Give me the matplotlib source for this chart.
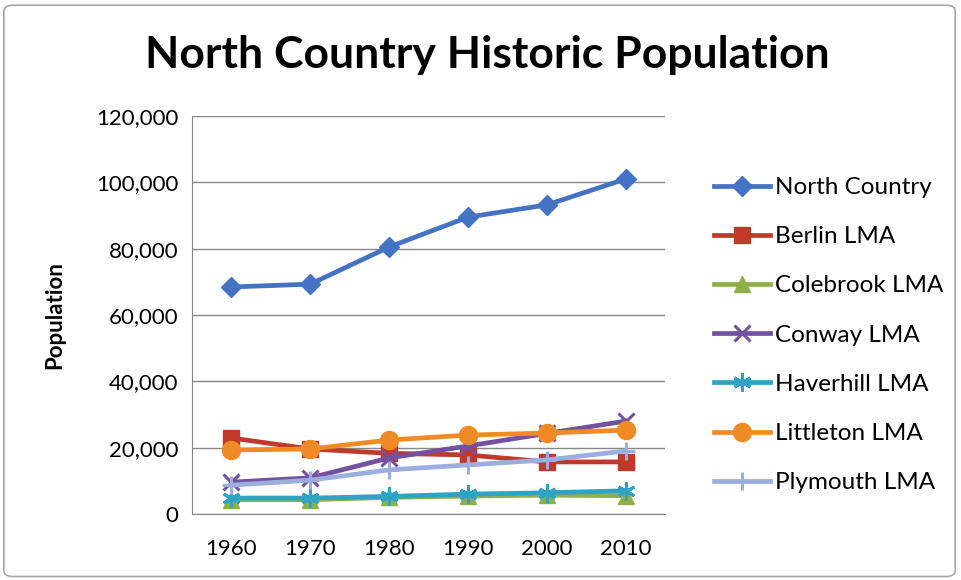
import matplotlib.pyplot as plt
from matplotlib.ticker import FuncFormatter
from matplotlib.patches import FancyBboxPatch

years = [1960, 1970, 1980, 1990, 2000, 2010]

north_country = [68450, 69300, 80500, 89500, 93200, 101000]
berlin = [22900, 19600, 18300, 17800, 15700, 15700]
colebrook = [4300, 4300, 5000, 5400, 5700, 5500]
conway = [9600, 10900, 16900, 20500, 24300, 28000]
haverhill = [4800, 4800, 5300, 6000, 6400, 7000]
littleton = [19300, 19600, 22300, 23800, 24400, 25300]
plymouth = [8700, 10200, 13300, 14800, 16300, 19000]

series = [
    ("North Country", north_country, "#4472C4", "D", 10),
    ("Berlin LMA", berlin, "#C0392B", "s", 12),
    ("Colebrook LMA", colebrook, "#8DB04B", "^", 11),
    ("Conway LMA", conway, "#7451A0", "x", 12),
    ("Haverhill LMA", haverhill, "#2FA3C4", (6, 2, 0), 13),
    ("Littleton LMA", littleton, "#F08A24", "o", 13),
    ("Plymouth LMA", plymouth, "#9AAEE0", "+", 13),
]

plt.rcParams['font.family'] = ['Lato', 'DejaVu Sans']

fig = plt.figure(figsize=(9.61, 5.80), dpi=100)
ax = fig.add_axes([192 / 961, 1 - 514 / 580, (665 - 192) / 961, (514 - 116) / 580])

# Chart frame
fig.patches.append(FancyBboxPatch((0.004, 0.006), 0.99, 0.985, boxstyle="round,pad=0,rounding_size=0.01",
                                  transform=fig.transFigure, facecolor="none",
                                  edgecolor="#A6A6A6", linewidth=1.2))

for name, vals, color, marker, ms in series:
    ax.plot(years, vals, color=color, linewidth=3.4, marker=marker, markersize=ms,
            markerfacecolor=color, markeredgecolor=color,
            markeredgewidth=2.2 if marker in ("x", "+", (6, 2, 0)) else 1,
            label=name, zorder=3)

ax.set_xlim(1955, 2015)
ax.set_ylim(0, 120000)
ax.set_yticks(range(0, 120001, 20000))
ax.set_xticks(years)
ax.yaxis.set_major_formatter(FuncFormatter(lambda v, p: f"{int(v):,}"))
ax.grid(axis="y", color="#878787", linewidth=1)
ax.set_axisbelow(True)
for s in ("top", "right"):
    ax.spines[s].set_visible(False)
ax.spines["left"].set_color("#878787")
ax.spines["bottom"].set_color("#878787")
ax.tick_params(axis="both", length=0, labelsize=16, colors="black", pad=10)
ax.tick_params(axis="x", pad=18)

ax.set_ylabel("Population", fontsize=16, fontweight="bold", labelpad=22)

fig.text(0.507, 0.905, "North Country Historic Population", ha="center", va="center",
         fontsize=32, fontweight="bold")

leg = fig.legend(loc="upper left", bbox_to_anchor=(714 / 961, 1 - 177 / 580), frameon=False,
                 fontsize=17.5, handlelength=2.3, labelspacing=1.16, handletextpad=0.2,
                 borderaxespad=0, borderpad=0)

fig.savefig("out.png", dpi=100)
